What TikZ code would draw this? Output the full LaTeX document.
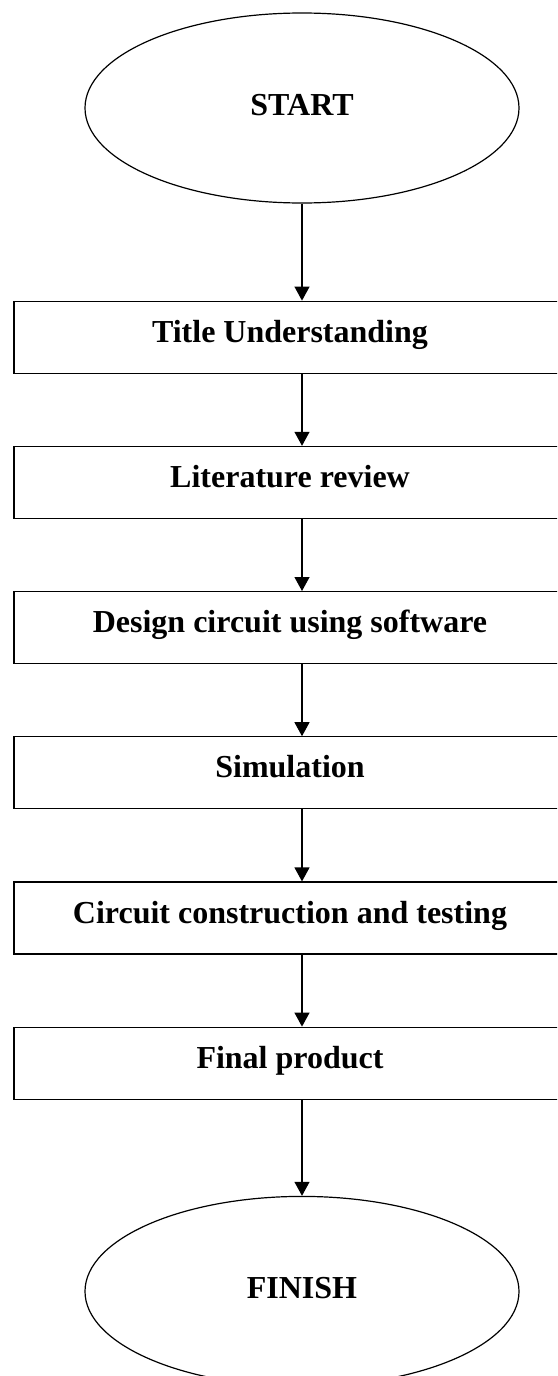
\documentclass[tikz,border=0pt]{standalone}
\usepackage{fontspec}
\setmainfont{Liberation Serif}
\usetikzlibrary{positioning,shapes.geometric,arrows.meta}

\begin{document}
\begin{tikzpicture}[x=1pt,y=-1pt,node distance=72pt,
		font=\fontsize{32}{38}\selectfont\bfseries,
		end node/.style={ellipse,draw,line width=1.2pt,minimum width=434pt,minimum height=190pt,inner sep=0pt,text height=21pt,text depth=7pt},
		task box/.style={rectangle,draw,line width=1.2pt,minimum width=552pt,minimum height=72pt,inner sep=0pt,text height=21pt,text depth=11pt},
		flow/.style={-{Triangle[width=15pt,length=14pt]},line width=1.2pt}]
		\useasboundingbox (0,0) rectangle (557,1376);
		\clip (0,0) rectangle (557,1376);
		
		\node[end node] (start) at (302,108) {START};
		\node[task box] (title) [below=97pt of start, xshift=-12pt] {Title Understanding};
		\node[task box] (lit) [below=of title] {Literature review};
		\node[task box] (design) [below=of lit] {Design circuit using software};
		\node[task box] (sim) [below=of design] {Simulation};
		\node[task box] (build) [below=of sim] {Circuit construction and testing};
		\node[task box] (final) [below=of build] {Final product};
		\node[end node] (finish) [below=96pt of final, xshift=12pt] {FINISH};
		
		\path[flow]
		(start) edge (start |- title.north)
		(title.south -| start) edge (lit.north -| start)
		(lit.south -| start) edge (design.north -| start)
		(design.south -| start) edge (sim.north -| start)
		(sim.south -| start) edge (build.north -| start)
		(build.south -| start) edge (final.north -| start)
		(final.south -| start) edge (finish);
\end{tikzpicture}
\end{document}
